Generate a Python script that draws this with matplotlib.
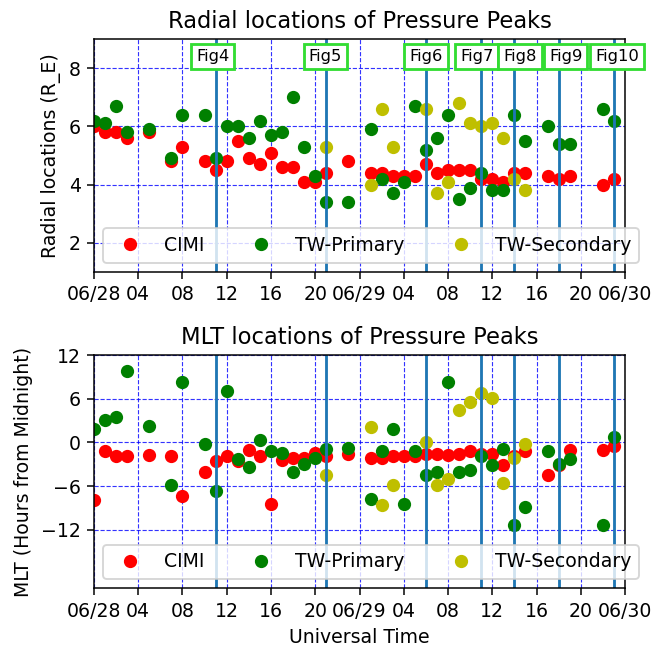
import matplotlib
matplotlib.use('Agg')
import matplotlib.pyplot as plt
import matplotlib.dates as mdates
from datetime import datetime, timedelta

# hours after 2013-06-28 00:00 UT
hours = [0, 1, 2, 3, 5, 7, 8, 10, 11, 12, 13, 14, 15, 16, 17, 18, 19, 20, 21, 23,
         25, 26, 27, 28, 29, 30, 31, 32, 33, 34, 35, 36, 37, 38, 39, 41, 42, 43, 46, 47]
hours_sec = [21, 25, 26, 27, 30, 31, 32, 33, 34, 35, 36, 37, 38, 39]

r_cimi = [6.0, 5.8, 5.8, 5.6, 5.8, 4.8, 5.3, 4.8, 4.5, 4.8, 5.5, 4.9, 4.7, 5.1, 4.6, 4.6, 4.1, 4.1, 4.4, 4.8,
          4.4, 4.4, 4.3, 4.3, 4.3, 4.7, 4.4, 4.5, 4.5, 4.5, 4.2, 4.2, 4.1, 4.4, 4.4, 4.3, 4.2, 4.3, 4.0, 4.2]
r_prim = [6.2, 6.1, 6.7, 5.8, 5.9, 4.9, 6.4, 6.4, 4.9, 6.0, 6.0, 5.6, 6.2, 5.7, 5.8, 7.0, 5.3, 4.3, 3.4, 3.4,
          5.9, 4.2, 3.7, 4.1, 6.7, 5.2, 5.6, 6.4, 3.5, 3.9, 4.4, 3.8, 3.8, 6.4, 5.5, 6.0, 5.4, 5.4, 6.6, 6.2]
r_sec = [5.3, 4.0, 6.6, 5.3, 6.6, 3.7, 4.1, 6.8, 6.1, 6.0, 6.1, 5.6, 4.2, 3.8]

mlt_cimi = [-7.9, -1.1, -1.9, -1.9, -1.7, -1.9, -7.3, -4.0, -2.6, -1.9, -2.6, -1.0, -1.9, -8.4, -2.4, -2.1,
            -2.1, -1.5, -1.9, -1.6, -2.1, -2.1, -1.9, -1.9, -1.9, -1.6, -1.6, -1.7, -1.6, -1.2, -1.6, -1.6,
            -3.1, -1.9, -1.1, -4.4, -3.1, -1.0, -1.0, -0.5]
mlt_prim = [1.9, 3.1, 3.5, 9.8, 2.2, -5.8, 8.3, -0.2, -6.7, 7.0, -2.3, -3.4, 0.4, -1.1, -1.4, -4.1,
            -2.9, -2.1, -0.9, -0.8, -7.7, -1.1, 1.8, -8.4, -1.1, -4.5, -4.1, 8.3, -4.1, -3.8, -1.9, -3.1,
            -0.9, -11.3, -8.9, -1.2, -2.9, -2.3, -11.3, 0.7]
mlt_sec = [-4.5, 2.1, -8.6, -5.8, 0.0, -5.8, -5.0, 4.4, 5.6, 6.8, 6.1, -5.5, -2.1, -0.2]

fig_hours = [11, 21, 30, 35, 38, 42, 47]
fig_names = ['Fig4', 'Fig5', 'Fig6', 'Fig7', 'Fig8', 'Fig9', 'Fig10']

t0 = datetime(2013, 6, 28)
t = [t0 + timedelta(hours=h) for h in hours]
t_sec = [t0 + timedelta(hours=h) for h in hours_sec]
t_fig = [t0 + timedelta(hours=h) for h in fig_hours]
label_shift = [-0.25, -0.1, 0.0, -0.4, 0.5, 0.65, 0.3]


def fmt_time(x, pos=None):
    d = mdates.num2date(x)
    if d.hour == 0:
        return d.strftime('%m/%d')
    return d.strftime('%H')


DPI = 136
fig = plt.figure(figsize=(654 / DPI, 647 / DPI), dpi=DPI)
ax1 = fig.add_axes([0.1437, 0.5796, 0.812, 0.3601])
ax2 = fig.add_axes([0.1437, 0.0907, 0.812, 0.3606])

panels = [(ax1, r_cimi, r_prim, r_sec), (ax2, mlt_cimi, mlt_prim, mlt_sec)]
for ax, a, b, c in panels:
    ax.plot(t, a, 'o', color='r', label='CIMI')
    ax.plot(t, b, 'o', color='g', label='TW-Primary')
    ax.plot(t_sec, c, 'o', color='y', label='TW-Secondary')
    for tf in t_fig:
        ax.axvline(tf, color='C0', lw=1.5)
    ax.grid(True, color='blue', linestyle='--', linewidth=0.6, alpha=0.8)
    ax.set_xlim(t0, t0 + timedelta(hours=48))
    ax.xaxis.set_major_locator(mdates.HourLocator(byhour=range(0, 24, 4)))
    ax.xaxis.set_major_formatter(plt.FuncFormatter(fmt_time))
    ax.legend(loc='lower left', ncol=3)

ax1.set_ylim(1, 9)
ax1.set_yticks([2, 4, 6, 8])
ax1.set_ylabel('Radial locations (R_E)')
ax1.set_title('Radial locations of Pressure Peaks')
for tf, name, s in zip(t_fig, fig_names, label_shift):
    ax1.text(tf + timedelta(hours=s), 8.4, name, ha='center', va='center', fontsize=8.7,
             bbox=dict(boxstyle='square,pad=0.3', facecolor='white', edgecolor='#33dd33', lw=1.5))

ax2.set_ylim(-20, 12)
ax2.set_yticks([-12, -6, 0, 6, 12])
ax2.set_ylabel('MLT (Hours from Midnight)')
ax2.set_xlabel('Universal Time')
ax2.set_title('MLT locations of Pressure Peaks')

fig.savefig('out.png', dpi=DPI)
